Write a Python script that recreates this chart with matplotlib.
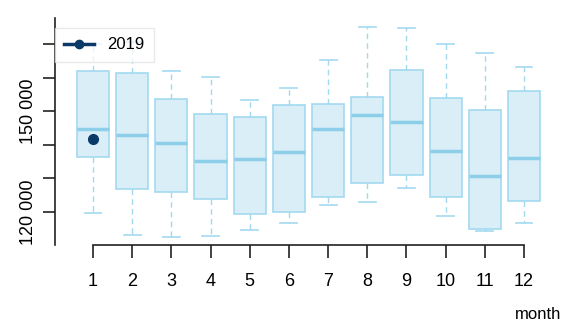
import numpy as np
import matplotlib
matplotlib.use("Agg")
import matplotlib.pyplot as plt
from matplotlib.lines import Line2D

plt.rcParams["font.family"] = ["Liberation Sans", "DejaVu Sans"]

# monthly distribution (values read per month)
months = list(range(1, 13))
whislo = [119800, 113250, 112470, 112950, 114550, 116630, 121990, 122980, 127230, 118720, 114260, 116630]
q1 = [136280, 126750, 126040, 123780, 119320, 120000, 124550, 128540, 130920, 124550, 115030, 123180]
med = [144790, 142920, 140630, 135080, 135860, 137950, 144790, 148780, 146690, 138240, 130620, 136160]
q3 = [162050, 161460, 153540, 149260, 148180, 151750, 152140, 154220, 162170, 154020, 150360, 155920]
whishi = [170000, 170500, 161870, 160270, 153240, 156900, 165320, 174970, 174670, 169900, 167230, 163240]

# 2019 observations
months_2019 = [1]
values_2019 = [141730]

yticks = [120000, 130000, 140000, 150000, 160000, 170000]
ylabels = ["120 000", "", "", "150 000", "", ""]

fill = "#d9eef7"
edge = "#a3d9ef"
navy = "#0b3a68"

fig = plt.figure(figsize=(5.67, 3.30), dpi=100)
ax = fig.add_axes([55 / 567, 85 / 330, 500 / 567, 227 / 330])

stats = []
for i in range(len(months)):
    stats.append(dict(whislo=whislo[i], q1=q1[i], med=med[i], q3=q3[i], whishi=whishi[i], fliers=[]))

ax.bxp(stats, positions=months, widths=0.82, patch_artist=True, capwidths=0.43,
       boxprops=dict(facecolor=fill, edgecolor=edge, linewidth=1.2),
       medianprops=dict(color="#8dcfe9", linewidth=2.5),
       whiskerprops=dict(color=edge, linewidth=1, linestyle=(0, (4, 3))),
       capprops=dict(color=edge, linewidth=1.2))

ax.plot(months_2019, values_2019, "o", color=navy, markersize=7, zorder=5)

ax.set_xlim(0.03, 12 + 31 / 39.18)
ax.set_ylim(110180, 177740)

ax.set_xticks(months)
ax.set_xticklabels([str(m) for m in months], fontsize=13)
ax.set_yticks(yticks)
ax.set_yticklabels(ylabels, fontsize=13, rotation=90, va="center")
ax.tick_params(axis="x", length=9, width=1.2, pad=11, colors="#222222", labelcolor="black")
ax.tick_params(axis="y", length=9, width=1.2, pad=4, colors="#222222", labelcolor="black")

for s in ["top", "right"]:
    ax.spines[s].set_visible(False)
ax.spines["bottom"].set_bounds(1, 12)
for s in ["bottom", "left"]:
    ax.spines[s].set_color("#222222")
    ax.spines[s].set_linewidth(1.2)

handle = Line2D([], [], color=navy, linewidth=2.5, marker="o", markersize=6)
leg = ax.legend([handle], ["2019"], loc="upper left", bbox_to_anchor=(0.0, 0.955),
                fontsize=12, frameon=True, fancybox=False, handlelength=1.8,
                borderpad=0.55, handletextpad=0.8, borderaxespad=0)
leg.get_frame().set_edgecolor("#e2e2e2")
leg.get_frame().set_facecolor("white")
leg.get_frame().set_alpha(0.75)

fig.text(0.99, 0.025, "month", ha="right", va="bottom", fontsize=12)

fig.savefig("out.png", dpi=100)
